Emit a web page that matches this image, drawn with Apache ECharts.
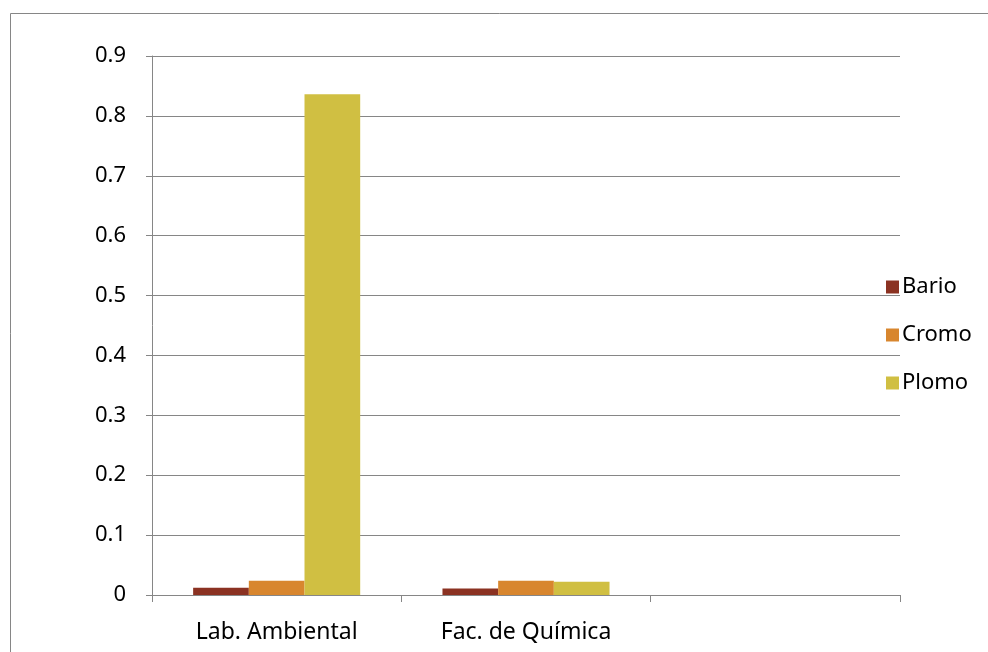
<!DOCTYPE html>
<html>
<head>
<meta charset="utf-8">
<script src="https://cdn.jsdelivr.net/npm/echarts@6/dist/echarts.min.js"></script>
<style>
  html, body { margin: 0; padding: 0; background: #fff; }
  #chart { width: 988px; height: 652px; }
</style>
</head>
<body>
<div id="chart"></div>
<script>
// Sampling sites (third slot is left empty on the axis)
const categories = ['Lab. Ambiental', 'Fac. de Química', ''];
// Measured concentrations per metal
const bario = [0.012, 0.011, null];
const cromo = [0.024, 0.024, null];
const plomo = [0.836, 0.022, null];
const yTicks = { min: 0, max: 0.9, interval: 0.1 };

const FONT = 'Noto Sans';
const FS = 22;
const GRAY = '#868686';

const chart = echarts.init(document.getElementById('chart'));
chart.setOption({
  animation: false,
  textStyle: { fontFamily: FONT },
  graphic: [{
    type: 'rect',
    left: 8, top: 11,
    shape: { width: 1000, height: 700 },
    style: { fill: 'none', stroke: GRAY, lineWidth: 1 }
  }],
  grid: { left: 152, right: 88, top: 56, bottom: 57 },
  legend: {
    orient: 'vertical',
    left: 881, top: 271,
    itemWidth: 13, itemHeight: 13, itemGap: 26,
    icon: 'rect',
    textStyle: { fontFamily: FONT, fontSize: FS, color: '#000', padding: [0, 0, 0, -2] },
    data: ['Bario', 'Cromo', 'Plomo']
  },
  xAxis: {
    type: 'category',
    data: categories,
    axisLine: { lineStyle: { color: GRAY, width: 1 } },
    axisTick: { show: true, length: 7, lineStyle: { color: GRAY } },
    axisLabel: { color: '#000', fontSize: 23, fontFamily: FONT, margin: 26 },
    splitLine: { show: false }
  },
  yAxis: {
    type: 'value',
    min: yTicks.min, max: yTicks.max, interval: yTicks.interval,
    axisLine: { show: true, lineStyle: { color: GRAY, width: 1 } },
    axisTick: { show: true, length: 6, lineStyle: { color: GRAY } },
    axisLabel: {
      color: '#000', fontSize: FS, fontFamily: FONT, margin: 26,
      formatter: v => (Math.round(v * 10) / 10).toString()
    },
    splitLine: { lineStyle: { color: GRAY, width: 1 } }
  },
  series: [
    { name: 'Bario', type: 'bar', data: bario, itemStyle: { color: '#8B3222' }, barGap: '0%', barCategoryGap: '33%' },
    { name: 'Cromo', type: 'bar', data: cromo, itemStyle: { color: '#D8862E' } },
    { name: 'Plomo', type: 'bar', data: plomo, itemStyle: { color: '#D0BF42' } }
  ]
});
</script>
</body>
</html>
